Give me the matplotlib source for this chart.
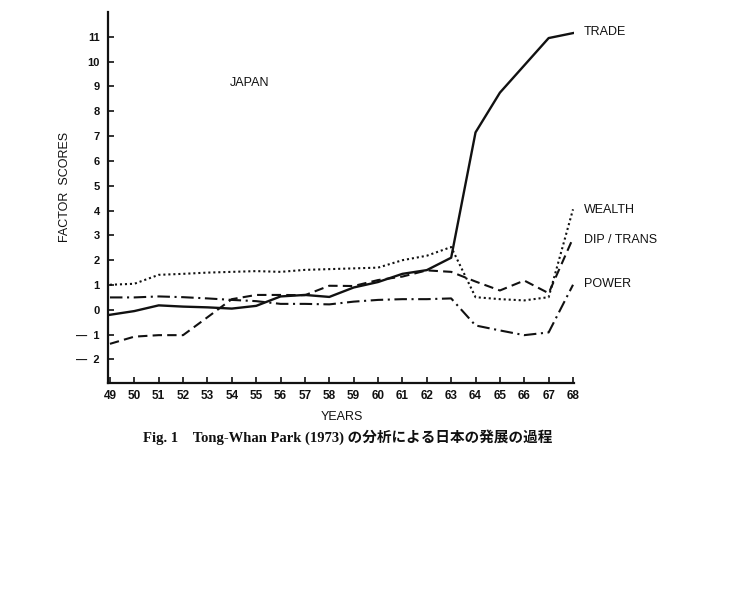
import numpy as np
import matplotlib
matplotlib.use("Agg")
import matplotlib.pyplot as plt

# data (factor scores by year)
years = list(range(49, 69))
trade = [-0.2, -0.05, 0.18, 0.13, 0.1, 0.05, 0.16, 0.54, 0.6, 0.52,
         0.9, 1.12, 1.45, 1.6, 2.1, 7.15, 8.75, 9.85, 10.95, 11.15]
wealth = [1.01, 1.05, 1.41, 1.45, 1.5, 1.53, 1.56, 1.53, 1.61, 1.64,
          1.67, 1.7, 2.0, 2.18, 2.53, 0.51, 0.43, 0.38, 0.51, 4.05]
diptrans = [-1.37, -1.08, -1.02, -1.02, -0.3, 0.43, 0.6, 0.6, 0.59, 0.97,
            0.96, 1.2, 1.34, 1.59, 1.53, 1.14, 0.78, 1.18, 0.67, 2.89]
power = [0.5, 0.5, 0.54, 0.51, 0.46, 0.4, 0.35, 0.24, 0.24, 0.22,
         0.33, 0.4, 0.43, 0.43, 0.46, -0.63, -0.83, -1.02, -0.91, 1.01]

yticks = list(range(-2, 12))
ytick_labels = ['—  2', '—  1'] + [str(v) for v in range(0, 12)]
series_labels = ['TRADE', 'WEALTH', 'DIP / TRANS', 'POWER']
label_y = [11.2, 4.03, 2.82, 1.05]

plt.rcParams['font.family'] = ['Liberation Sans', 'DejaVu Sans']

fig = plt.figure(figsize=(7.49, 6.11), dpi=100)
ax = fig.add_axes([108/749, 1-383.3/611, 466/749, 371.3/611])

lc = '#111111'
ax.plot(years, trade, color=lc, lw=1.7, ls='-')
ax.plot(years, wealth, color=lc, lw=1.5, ls=(0, (1, 1.4)))
ax.plot(years, diptrans, color=lc, lw=1.5, ls=(0, (4.5, 2.5)))
ax.plot(years, power, color=lc, lw=1.5, ls=(0, (6, 2.2, 1, 2.2)))

ax.set_xlim(48.92, 68.04)
ax.set_ylim(-2.96, 12.0)

ax.spines['top'].set_visible(False)
ax.spines['right'].set_visible(False)
for s in ['left', 'bottom']:
    ax.spines[s].set_linewidth(1.6)
    ax.spines[s].set_color(lc)

ax.set_xticks(years)
ax.set_xticklabels([str(y) for y in years], fontweight='bold')
ax.set_yticks(yticks)
ax.set_yticklabels(ytick_labels, fontweight='bold')
ax.tick_params(axis='both', direction='in', length=4, width=1.2, colors=lc)
ax.tick_params(axis='x', pad=5, labelsize=8.5)
ax.tick_params(axis='y', pad=6, labelsize=8)

for lab, yv in zip(series_labels, label_y):
    ax.text(68.45, yv, lab, fontsize=9, va='center', ha='left', color=lc)

ax.text(54.75, 9.14, 'JAPAN', fontsize=9, ha='center', va='center', color=lc)

fig.text(65/749, 1-187/611, 'FACTOR  SCORES', rotation=90, fontsize=9,
         ha='center', va='center', color=lc)
fig.text(342/749, 1-417/611, 'YEARS', fontsize=9, ha='center', va='center',
         color=lc)
fig.text(348/749, 1-437/611, 'Fig. 1　Tong-Whan Park (1973) の分析による日本の発展の過程',
         fontsize=10.5, ha='center', va='center', color=lc, fontweight='bold',
         family=['Liberation Serif', 'Noto Sans CJK JP'])

fig.savefig('out.png', dpi=100)
